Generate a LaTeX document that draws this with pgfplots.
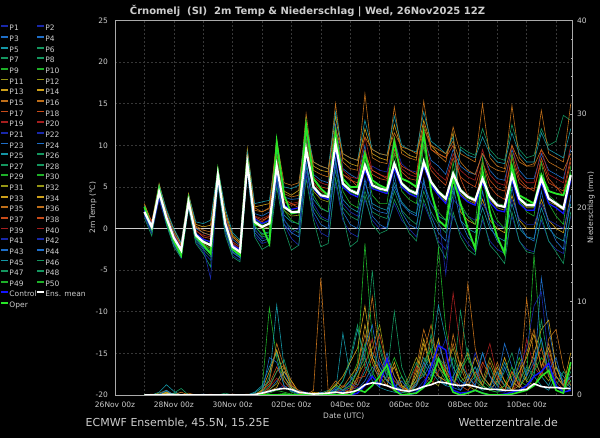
\documentclass[border=0pt]{standalone}
\usepackage{pgfplots}
\pgfplotsset{compat=1.18}
\usepackage{pgfplotstable}
\usepackage{fontspec}
\setmainfont{DejaVu Sans}
\definecolor{c1}{RGB}{25,40,170}
\definecolor{c2}{RGB}{30,110,200}
\definecolor{c3}{RGB}{20,150,165}
\definecolor{c4}{RGB}{20,150,95}
\definecolor{c5}{RGB}{30,175,40}
\definecolor{c6}{RGB}{150,150,20}
\definecolor{c7}{RGB}{205,160,25}
\definecolor{c8}{RGB}{190,110,25}
\definecolor{c9}{RGB}{200,75,25}
\definecolor{c10}{RGB}{165,30,30}
\definecolor{ctrl}{RGB}{20,20,255}
\definecolor{oper}{RGB}{40,230,40}
\definecolor{fg}{RGB}{205,205,205}
\definecolor{gridc}{RGB}{55,55,55}
\definecolor{framec}{RGB}{170,170,170}

\pgfplotstableread{
t M O C a b c d e f g h i j k l m n
1.00 2.0 2.6 2.2 2.4 1.8 2.9 1.5 2.2 3.0 1.7 2.5 2.0 1.3 2.7 1.9 2.3 1.6
1.25 0.2 0.0 0.4 0.5 -0.3 0.8 -0.6 0.2 0.6 -0.2 0.9 0.0 -0.9 0.4 0.1 0.7 -0.4
1.50 4.4 4.8 4.2 4.9 3.8 5.4 3.5 4.6 5.0 4.1 4.3 3.9 4.5 5.2 4.0 4.7 3.6
1.75 1.3 1.0 1.5 1.8 0.6 2.1 0.4 1.2 1.9 0.9 1.6 1.0 0.5 2.3 1.4 1.1 0.8
2.00 -1.1 -1.5 -0.9 -0.4 -1.8 -0.1 -2.0 -1.0 -0.6 -1.5 -0.8 -1.3 -2.2 0.0 -1.2 -0.7 -1.6
2.25 -2.6 -3.2 -2.4 -2.0 -3.4 -1.8 -3.6 -2.5 -2.1 -3.0 -2.3 -2.8 -3.5 -1.7 -2.7 -2.2 -3.1
2.50 3.2 3.5 3.0 3.6 2.7 4.2 2.5 3.3 3.8 2.9 3.4 3.0 2.4 4.0 3.1 3.5 2.8
2.75 -0.8 -1.0 -0.6 0.0 -1.4 0.5 -1.6 -0.7 0.3 -1.1 -0.2 -0.9 -1.8 0.8 -0.5 -0.3 -1.2
3.00 -1.6 -2.0 -1.3 -0.5 -2.5 0.2 -2.8 -1.4 -0.2 -2.1 -1.0 -1.8 -3.0 0.6 -1.5 -0.8 -2.3
3.25 -2.0 -3.0 -1.6 -0.8 -3.4 0.4 -3.8 -1.9 -0.4 -2.8 -1.2 -2.4 -4.6 1.0 -2.2 -1.0 -6.0
3.50 6.4 6.8 6.1 7.0 5.8 7.3 5.5 6.5 6.9 6.0 6.6 6.2 5.3 7.2 6.3 6.8 5.7
3.75 0.6 0.5 0.9 1.4 -0.2 2.0 -0.5 0.7 1.6 0.1 1.1 0.4 -0.8 2.4 0.8 1.0 0.0
4.00 -2.2 -2.5 -2.0 -1.3 -2.9 -0.8 -3.2 -2.1 -1.0 -2.6 -1.6 -2.4 -3.4 -0.5 -2.0 -1.8 -2.8
4.25 -2.8 -3.2 -2.5 -2.0 -3.5 -1.6 -3.8 -2.7 -1.8 -3.3 -2.2 -3.0 -4.0 -1.4 -2.6 -2.4 -3.4
4.50 7.8 8.3 7.5 8.4 7.0 9.6 6.8 7.9 8.8 7.3 8.1 7.6 6.9 9.2 7.7 8.3 7.1
4.75 0.8 0.5 1.2 1.8 -0.2 2.6 -0.8 0.9 2.2 0.2 1.4 0.6 -1.0 3.0 1.0 1.5 0.0
5.00 0.2 0.3 0.6 1.5 -1.0 2.8 -1.8 0.4 2.0 -0.6 1.0 0.0 -2.5 3.2 0.5 1.2 -1.2
5.25 0.6 -1.8 1.0 2.0 -0.8 3.0 -1.5 0.5 2.4 -0.4 1.4 0.2 -2.0 3.4 0.9 1.6 -1.0
5.50 7.5 10.4 7.0 8.5 6.0 9.0 5.5 7.8 10.8 6.4 8.0 7.2 5.0 9.5 7.4 8.8 6.2
5.75 2.6 4.0 2.8 3.8 1.0 4.5 0.5 2.8 4.2 1.6 3.2 2.2 0.0 5.0 2.5 3.5 1.2
6.00 2.0 1.8 2.3 3.5 0.0 4.0 -1.2 2.0 3.8 0.8 2.8 1.5 -2.6 4.8 1.8 3.0 -0.5
6.25 2.0 2.0 2.5 3.6 -0.5 4.6 -2.0 2.2 4.0 0.6 3.0 1.6 -2.0 5.2 1.9 3.2 0.0
6.50 9.5 12.5 9.0 11.0 7.5 12.0 6.5 9.8 13.8 8.0 10.5 9.2 6.0 12.5 9.0 11.5 7.0
6.75 5.0 6.0 4.8 6.5 2.5 7.5 1.5 5.2 7.0 3.5 6.0 4.5 1.0 8.0 4.8 6.2 3.0
7.00 4.0 4.8 3.8 5.8 1.2 7.0 -0.5 4.2 6.5 2.4 5.0 3.5 -2.2 7.5 3.8 5.5 1.5
7.25 3.8 4.0 3.5 5.5 0.8 6.8 -1.0 4.0 6.2 2.0 4.8 3.2 -1.8 7.2 3.5 5.2 1.0
7.50 10.2 11.5 9.5 12.5 7.0 13.5 5.5 10.5 15.0 8.0 11.5 9.8 6.0 14.0 9.5 12.0 7.5
7.75 5.4 6.0 5.0 7.2 2.5 8.5 1.0 5.6 8.0 3.5 6.5 5.0 1.5 9.0 5.2 7.0 3.0
8.00 4.6 5.0 4.2 6.5 1.5 7.8 -0.5 4.8 7.2 2.5 5.8 4.2 -2.2 8.5 4.4 6.2 2.0
8.25 4.2 5.0 3.8 6.0 1.0 7.5 -1.0 4.4 7.0 2.0 5.5 3.8 -1.5 8.2 4.0 6.0 1.5
8.50 7.6 9.0 7.0 10.0 4.5 12.0 3.5 8.0 16.2 5.5 9.5 7.2 4.0 13.0 7.5 11.0 5.0
8.75 5.2 5.8 4.8 2.5 2.0 9.0 1.0 5.5 8.5 3.0 6.5 4.8 0.5 9.5 5.0 7.0 7.5
9.00 4.8 5.2 4.5 2.0 1.5 8.5 0.0 5.0 8.0 2.5 6.0 4.5 -0.6 9.0 4.6 6.5 7.0
9.25 4.6 4.8 4.2 1.8 1.2 8.2 0.2 4.8 7.8 2.2 5.8 4.2 -0.2 8.8 4.4 6.2 6.8
9.50 7.8 10.5 7.2 5.0 4.5 12.5 3.0 8.0 14.6 5.5 9.5 7.5 3.5 13.5 7.6 11.0 10.5
9.75 5.4 6.0 5.0 3.0 2.2 9.5 1.0 5.6 9.0 3.2 6.8 5.0 1.5 10.0 5.2 7.2 7.8
10.00 4.6 5.6 4.2 2.0 1.2 8.8 0.0 4.8 8.5 2.2 6.0 4.2 -0.5 9.5 4.4 6.5 7.0
10.25 4.2 5.0 3.8 1.5 0.5 8.5 -1.0 4.4 8.2 1.8 5.8 3.8 -1.5 9.2 4.0 6.2 6.8
10.50 8.0 11.5 7.5 11.0 4.5 13.0 3.0 8.5 15.3 5.5 10.0 7.5 3.5 14.0 7.8 11.5 5.0
10.75 5.6 4.5 5.2 8.2 2.0 10.0 0.8 5.8 9.5 3.0 7.0 5.2 1.0 10.5 5.5 7.5 3.0
11.00 4.4 1.0 4.0 7.5 0.5 9.0 -1.5 4.6 8.8 1.5 6.0 4.0 -2.0 9.8 4.2 6.5 1.8
11.25 3.6 0.2 3.0 6.5 -0.5 8.5 -2.5 3.8 8.0 1.0 5.2 3.2 -3.6 9.0 3.4 5.8 -5.5
11.50 6.6 6.0 6.0 9.5 3.0 11.5 1.5 7.0 12.2 4.0 8.5 6.2 2.0 11.0 6.5 9.0 3.5
11.75 4.6 3.0 4.0 7.5 9.8 2.0 -0.5 4.8 9.0 9.5 6.2 4.2 -1.0 1.0 4.4 7.0 2.5
12.00 3.8 0.0 3.2 6.8 9.2 1.0 -1.8 4.0 8.5 8.8 5.5 3.4 -2.5 0.0 3.6 6.2 1.5
12.25 3.4 -2.4 2.8 6.5 8.8 0.5 -2.8 3.6 8.0 8.5 5.0 3.0 -3.2 -0.5 3.2 5.8 1.0
12.50 6.0 7.0 5.5 9.0 12.0 3.5 1.0 6.5 15.0 11.0 8.0 5.8 1.5 2.5 6.0 9.5 3.0
12.75 3.8 2.0 3.2 7.0 9.5 1.0 -1.5 4.0 8.5 9.0 5.8 3.5 -2.0 0.0 3.8 6.5 1.5
13.00 2.8 -1.0 2.2 6.0 8.5 0.0 -2.5 3.0 7.5 8.0 4.8 2.5 -3.0 -1.0 2.8 5.5 0.5
13.25 2.6 -3.0 2.0 5.8 8.2 -0.5 -3.0 2.8 7.2 7.8 4.5 2.2 -4.2 -1.5 2.5 5.2 0.0
13.50 6.4 7.5 5.8 9.5 12.5 4.0 1.5 6.8 14.8 11.5 8.5 6.0 2.0 3.0 6.2 10.0 3.5
13.75 3.6 4.0 3.0 7.0 9.5 1.0 -1.5 3.8 8.5 9.0 5.5 3.2 -1.5 0.0 3.5 6.5 1.2
14.00 2.8 3.5 2.2 6.0 8.5 0.0 -2.5 3.0 7.5 8.0 4.8 2.5 -2.8 -1.0 2.8 5.5 0.5
14.25 2.8 3.0 2.2 6.0 8.8 0.0 -2.8 3.0 7.8 8.0 4.8 2.5 -3.0 -1.2 2.6 5.5 0.5
14.50 6.0 6.5 5.5 9.0 12.0 3.5 1.0 6.5 14.2 11.5 8.0 5.8 1.5 2.5 6.0 9.5 3.0
14.75 3.6 4.5 3.0 7.0 10.0 1.0 -1.5 4.0 9.0 9.5 5.5 3.2 -1.5 0.0 3.5 6.5 1.0
15.00 3.0 4.2 2.5 6.5 10.5 0.0 -2.5 3.2 8.5 9.0 5.0 2.8 -2.8 -1.0 3.0 6.0 0.5
15.25 2.4 4.0 1.8 6.0 13.6 -0.5 -3.0 2.6 8.0 8.5 4.5 2.2 -4.2 -1.5 2.4 5.5 0.0
15.50 6.4 6.5 5.8 9.5 13.0 4.0 1.5 6.8 15.0 12.0 8.5 6.2 2.0 3.0 6.0 10.0 3.5
}\temps

\pgfplotstableread{
t o p q r
1.00 2.3 1.8 2.1 2.5
1.25 0.5 -0.2 0.3 0.1
1.50 4.6 4.0 4.5 4.7
1.75 1.6 0.9 1.4 1.1
2.00 -0.5 -1.8 -0.9 -1.2
2.25 -2.0 -3.3 -2.4 -2.9
2.50 3.8 2.8 3.3 3.4
2.75 0.2 -1.2 -0.6 -0.9
3.00 -0.5 -2.3 -1.3 -1.9
3.25 -0.8 -3.0 -1.6 -2.6
3.50 6.8 5.9 6.6 6.7
3.75 1.5 -0.2 0.9 0.3
4.00 -1.0 -2.8 -1.9 -2.4
4.25 -1.8 -3.5 -2.5 -3.1
4.50 8.6 7.2 8.0 8.1
4.75 2.5 -0.5 1.2 0.4
5.00 2.0 -1.5 0.8 -0.8
5.25 2.5 -1.2 1.5 -0.5
5.50 10.5 6.5 8.0 8.8
5.75 5.5 0.5 3.5 2.2
6.00 5.2 -0.5 3.0 1.0
6.25 5.5 -1.0 2.5 0.5
6.50 11.5 8.0 10.5 10.8
6.75 8.0 2.0 5.5 4.0
7.00 7.5 0.5 4.5 2.5
7.25 7.2 0.0 4.0 2.0
7.50 12.0 8.5 11.0 11.0
7.75 9.0 2.0 6.5 4.5
8.00 8.5 0.5 6.0 3.0
8.25 8.2 0.0 5.0 2.5
8.50 11.0 6.0 9.0 8.5
8.75 9.5 1.5 7.0 4.0
9.00 9.0 0.5 6.5 3.0
9.25 8.8 0.0 6.0 3.0
9.50 11.5 6.5 9.0 9.0
9.75 9.8 2.0 7.5 4.5
10.00 9.5 0.5 7.0 3.5
10.25 9.0 0.0 6.5 3.0
10.50 12.0 6.0 12.5 10.0
10.75 10.0 1.5 9.5 4.0
11.00 9.5 -0.5 9.0 2.0
11.25 9.0 -1.5 8.5 1.0
11.50 10.5 5.0 10.0 8.0
11.75 8.0 1.0 6.0 3.0
12.00 7.0 -1.0 4.0 1.5
12.25 6.5 -2.0 3.0 0.5
12.50 9.0 4.5 8.0 8.5
12.75 7.5 0.5 5.0 3.0
13.00 7.0 -1.5 4.0 1.0
13.25 6.8 -2.5 3.5 0.0
13.50 10.0 5.0 9.0 9.0
13.75 8.0 0.5 6.0 3.5
14.00 7.5 -1.0 5.0 2.0
14.25 7.5 -1.5 4.5 1.5
14.50 9.5 4.5 8.5 8.0
14.75 8.0 0.5 6.0 3.0
15.00 7.5 -1.5 5.0 1.5
15.25 7.0 -2.5 4.0 0.5
15.50 9.0 4.0 8.0 7.5
}\tempsb

\pgfplotstableread{
t PM PC PO q1 q2 q3 q4 q5 q6 q7 q8 q9 q10 q11 q12
1.00 0 0 0 0 0 0 0 0 0 0 0 0 0 0 0
1.25 0 0 0 0 0 0.1 0 0 0 0 0 0 0 0 0
1.50 0 0 0 0 0.3 0 0 0 0.2 0 0 0 0 0 0
1.75 0.05 0 0 0.2 1.1 0.3 0 0.1 0.5 0 0.2 0 0 0 0.4
2.00 0.05 0 0 0 0.4 0 0.2 0 0 0.1 0 0 0 0 0
2.25 0 0 0 0 0 0 0.7 0 0 0 0 0 0 0 0
2.50 0 0 0 0 0 0.2 0 0 0 0 0.1 0 0 0 0
2.75 0 0 0 0 0 0 0 0 0 0 0 0 0 0 0
3.00 0 0 0 0 0 0 0 0.1 0 0 0 0 0 0 0
3.25 0 0 0 0 0 0 0 0 0 0 0 0 0.1 0 0
3.50 0 0 0 0 0 0 0 0 0 0 0 0 0 0 0
3.75 0 0 0 0 0 0 0.2 0 0 0 0 0 0 0 0
4.00 0 0 0 0 0 0 0 0 0 0.1 0 0 0 0 0
4.25 0 0 0 0 0 0 0 0 0 0 0 0 0 0 0
4.50 0 0 0 0 0 0.1 0 0 0 0 0 0 0 0 0
4.75 0.05 0 0 0 0.2 0 0 0 0 0.1 0 0 0 0 0.3
5.00 0.2 0 0 0.6 0.8 0.2 0 0.3 0 0.4 0 0.2 0.1 0 1.0
5.25 0.4 0 0 9.3 1.5 0.8 2.0 0.5 0.6 1.2 0.4 0.3 0.8 0.2 3.0
5.50 0.6 0 0 4.0 9.6 2.5 4.8 1.5 1.2 3.0 0.8 0.6 1.8 0.5 4.5
5.75 0.7 0 0.1 1.0 3.0 3.2 1.5 2.5 3.0 1.5 2.5 1.0 0.8 0.3 2.0
6.00 0.6 0 0 0.3 0.8 1.5 0.5 1.0 0.8 0.6 1.5 0.4 1.2 0.1 0.6
6.25 0.3 0 0 0 0.2 0.3 0.2 0.4 0.1 0.2 0.3 0.5 0.3 0 0.1
6.50 0.2 0 0 0 0 0 0.1 0.2 0 0 0 0.3 0.2 0 0
6.75 0.1 0 0 0 0 0.5 0 0 0 0 0.2 0 0 0.1 0
7.00 0.15 0 0 0 0 12.5 0 0 0 0.1 0.3 0 0.1 0 0
7.25 0.2 0 0 0.1 0 0.4 0 0.3 0.2 0 0 0.2 0 0.4 0
7.50 0.3 0 0 0.5 0.3 0 0.2 0.6 1.2 0.4 0 0.5 0.3 1.0 0.4
7.75 0.2 0 0 0.8 6.6 0 0.5 0.3 0.5 1.0 0.2 0.3 0.6 0.5 1.5
8.00 0.3 0 0 1.5 2.0 0.3 1.0 0.8 0.3 0.6 0.5 1.2 0.4 1.0 3.5
8.25 0.5 0.2 0.6 3.5 1.0 1.5 2.5 0.6 2.0 1.8 3.0 0.8 1.0 2.5 7.0
8.50 1.1 1.0 0.3 16.2 2.5 5.0 4.0 1.5 3.5 2.0 7.5 1.0 3.0 5.5 4.0
8.75 1.3 2.0 1.0 6.0 4.5 10.5 13.3 3.0 5.0 4.0 4.0 2.5 6.0 2.5 1.5
9.00 1.2 1.0 2.0 2.0 3.0 4.0 5.0 2.0 7.5 6.5 2.0 3.5 2.0 1.0 0.8
9.25 1.0 3.9 3.2 1.0 1.5 2.0 2.0 4.5 3.0 3.0 1.0 2.0 1.0 2.0 0.5
9.50 0.7 1.0 0.5 0.5 0.8 1.0 8.9 2.0 1.0 1.5 3.5 1.0 0.5 4.0 0.3
9.75 0.5 0 0 0.3 2.0 0.5 3.0 0.5 0.5 0.8 1.0 0.6 0.3 2.0 0.2
10.00 0.4 0 0.1 0.2 0.5 0.3 1.0 0.3 2.0 0.5 0.4 0.3 1.5 0.8 0.6
10.25 0.6 0.3 0.2 1.0 1.2 3.0 0.5 1.5 4.0 1.0 2.5 0.5 3.0 1.5 2.0
10.50 0.9 1.0 0.8 2.5 3.0 7.0 1.0 2.0 2.5 3.0 6.0 1.5 2.0 3.5 4.0
10.75 1.1 3.0 1.5 5.0 4.0 4.5 2.0 3.5 1.5 6.0 3.0 2.5 1.0 5.0 2.5
11.00 1.4 5.3 3.9 15.8 9.6 2.0 4.0 2.0 1.0 4.0 2.0 4.0 2.5 3.0 1.5
11.25 1.3 4.8 2.0 7.0 6.0 1.5 3.0 1.0 3.0 2.5 1.5 6.0 3.5 2.0 1.0
11.50 1.1 0.5 0.3 3.0 3.0 6.5 1.5 0.8 5.0 1.5 1.0 2.5 10.9 1.0 2.0
11.75 1.0 0.2 0 1.5 1.5 3.0 9.0 0.5 2.0 1.0 3.0 1.0 5.0 2.5 3.5
12.00 1.1 0.3 0.2 2.0 1.0 11.9 4.0 1.5 1.0 0.5 4.5 1.5 2.0 4.0 2.0
12.25 0.9 0.5 0.5 3.0 2.0 5.0 2.0 3.0 0.5 1.5 2.0 4.5 1.0 2.0 1.0
12.50 0.7 0.2 0.2 1.5 4.5 2.0 1.0 1.0 1.5 3.5 1.0 2.0 3.0 1.0 0.5
12.75 0.6 0 0 0.8 2.0 1.0 0.5 0.5 4.0 2.0 0.5 1.0 5.5 0.5 0.8
13.00 0.6 0 0 0.5 1.0 3.5 0.3 1.5 2.0 1.0 1.5 0.5 2.0 0.3 2.5
13.25 0.5 0.1 0 1.0 3.5 1.5 0.5 5.5 1.0 0.5 4.0 0.3 1.0 1.0 1.0
13.50 0.5 0.3 0.1 2.0 1.5 0.5 1.0 3.0 0.5 2.5 1.5 1.0 0.5 3.0 0.5
13.75 0.5 0.5 0.3 4.0 0.8 1.0 2.5 1.0 3.5 1.0 0.8 3.0 1.5 1.5 0.3
14.00 0.6 1.0 0.5 2.0 2.5 10.3 1.5 0.5 1.5 0.5 2.0 5.0 6.0 1.0 1.0
14.25 1.2 2.0 1.0 15.0 4.0 4.0 3.0 2.0 1.0 3.0 4.5 9.5 3.0 2.5 2.0
14.50 0.9 2.5 2.0 5.0 2.0 2.0 6.0 12.5 2.5 5.0 7.0 11.0 2.0 4.0 1.0
14.75 0.8 3.4 2.6 2.0 1.0 6.0 2.0 7.0 1.5 2.0 8.0 4.0 4.5 3.0 0.5
15.00 0.8 1.0 0.5 1.0 3.0 7.0 1.0 3.0 3.0 1.0 3.0 2.0 1.5 1.0 2.0
15.25 0.7 0.3 0.2 0.5 2.0 3.0 0.5 1.5 1.0 0.5 1.0 1.0 0.5 0.5 1.0
15.50 0.7 0.5 3.5 3.0 1.0 1.0 2.5 0.8 3.0 1.5 0.5 0.5 2.0 1.5 0.5
}\precs

\pgfplotstableread{
t s1 s2 s3 s4
1.00 0 0 0 0
1.25 0 0 0 0
1.50 0 0 0.1 0
1.75 0.3 0 0.5 0
2.00 0 0.2 0 0
2.25 0 0 0 0.3
2.50 0 0 0 0
2.75 0 0 0 0
3.00 0 0 0 0
3.25 0 0 0 0
3.50 0 0 0 0
3.75 0 0 0 0
4.00 0 0 0 0
4.25 0 0 0 0
4.50 0 0 0 0
4.75 0 0.1 0 0
5.00 0.5 0.3 0.2 0.4
5.25 2.5 1.0 4.0 1.5
5.50 4.8 2.5 3.5 5.5
5.75 2.0 3.8 1.0 3.0
6.00 0.8 1.0 0.4 1.0
6.25 0.2 0.3 0.1 0.5
6.50 0 0.1 0 0.2
6.75 0.3 0 0 0
7.00 0 0.2 0.3 0
7.25 0.2 0.5 0 0.4
7.50 1.0 0.3 0.8 1.5
7.75 2.0 1.5 0.5 0.8
8.00 3.5 4.0 1.5 2.0
8.25 5.0 7.5 2.5 3.0
8.50 9.5 3.0 5.0 6.5
8.75 4.0 2.0 7.5 3.5
9.00 2.5 5.5 3.0 1.5
9.25 1.5 2.5 1.5 4.0
9.50 3.0 1.0 0.8 2.0
9.75 1.0 0.5 1.5 0.8
10.00 0.5 1.5 0.5 0.3
10.25 2.0 3.5 1.0 1.5
10.50 5.5 2.0 3.5 4.5
10.75 3.0 6.5 2.0 7.5
11.00 6.0 3.0 5.5 3.0
11.25 2.5 1.5 3.0 2.0
11.50 1.0 4.0 1.5 5.5
11.75 3.5 2.0 0.5 3.0
12.00 1.5 5.0 2.0 1.0
12.25 4.0 1.5 1.0 2.5
12.50 2.0 0.8 4.5 1.0
12.75 1.0 3.0 2.0 3.5
13.00 3.0 1.0 0.5 1.5
13.25 1.5 2.5 3.0 0.5
13.50 0.5 4.5 1.0 2.5
13.75 2.5 1.5 5.0 1.0
14.00 4.0 3.0 2.0 4.5
14.25 6.5 2.0 3.5 7.0
14.50 3.0 8.0 6.0 3.0
14.75 5.0 3.5 2.5 5.5
15.00 2.0 1.0 4.0 2.0
15.25 1.0 2.5 1.0 1.0
15.50 4.5 1.5 2.0 3.0
}\precsb

\pgfplotsset{
  common/.style={
    scale only axis, width=457.5pt, height=374.5pt,
    at={(115pt,43pt)}, anchor=south west,
    xmin=0, xmax=15.56,
    /pgf/number format/assume math mode=true,
    tick label style={font=\fontsize{7.5}{9}\selectfont, text=fg},
    label style={font=\fontsize{7.5}{9}\selectfont, text=fg},
    axis line style={draw=framec},
    no markers,
  },
  mem/.style={line width=0.6pt, forget plot},
}

\begin{document}
\begin{tikzpicture}[x=1pt,y=1pt]
\fill[black] (0,0) rectangle (600,438);
\node[font=\fontsize{10}{12}\selectfont\bfseries, text=fg] at (307.5,427) {Črnomelj\ \ (SI)\ \ 2m Temp \& Niederschlag | Wed, 26Nov2025 12Z};
\node[font=\fontsize{11}{13}\selectfont, text=fg, anchor=base west, inner sep=0pt] at (85.5,11) {ECMWF Ensemble, 45.5N, 15.25E};
\node[font=\fontsize{11}{13}\selectfont, text=fg, anchor=base west, inner sep=0pt] at (458.5,11) {Wetterzentrale.de};

\begin{axis}[common,
  ymin=-20, ymax=25,
  ytick={-20,-15,...,25},
  xtick={0,2,...,14},
  xticklabels={26Nov 00z,28Nov 00z,30Nov 00z,02Dec 00z,04Dec 00z,06Dec 00z,08Dec 00z,10Dec 00z},
  minor xtick={1,3,...,15},
  xmajorgrids, xminorgrids, ymajorgrids,
  grid style={draw=gridc, line width=0.6pt, dash pattern=on 2pt off 2pt},
  minor grid style={draw=gridc, line width=0.6pt, dash pattern=on 2pt off 2pt},
  major tick length=0pt, minor tick length=0pt,
  xticklabel style={anchor=base, yshift=-12.5pt},
  yticklabel style={anchor=east, inner sep=0pt, xshift=-7pt},
  xlabel={Date (UTC)}, ylabel={2m Temp (°C)},
  xlabel style={at={(axis description cs:0.5,-0.056)}, anchor=center},
  ylabel style={at={(axis description cs:-0.048,0.5)}, anchor=center},
  legend columns=2,
  legend cell align=left,
  legend image code/.code={\draw[#1,line width=1.8pt] (0pt,2.6pt) -- (7pt,2.6pt);},
  legend style={at={(-0.2514,0.9888)}, anchor=north west, draw=none, fill=none,
    inner sep=0pt, font=\fontsize{7.5}{8}\selectfont, text=fg,
    nodes={inner sep=0.5pt, text height=5.6pt, text depth=1.6pt},
    row sep=2.44pt,
    /tikz/every even column/.append style={column sep=-1pt}},
]
\addlegendimage{c1}\addlegendentry{P1}
\addlegendimage{c1}\addlegendentry{P2}
\addlegendimage{c2}\addlegendentry{P3}
\addlegendimage{c2}\addlegendentry{P4}
\addlegendimage{c3}\addlegendentry{P5}
\addlegendimage{c4}\addlegendentry{P6}
\addlegendimage{c4}\addlegendentry{P7}
\addlegendimage{c4}\addlegendentry{P8}
\addlegendimage{c5}\addlegendentry{P9}
\addlegendimage{c5}\addlegendentry{P10}
\addlegendimage{c6}\addlegendentry{P11}
\addlegendimage{c6}\addlegendentry{P12}
\addlegendimage{c7}\addlegendentry{P13}
\addlegendimage{c7}\addlegendentry{P14}
\addlegendimage{c8}\addlegendentry{P15}
\addlegendimage{c8}\addlegendentry{P16}
\addlegendimage{c9}\addlegendentry{P17}
\addlegendimage{c9}\addlegendentry{P18}
\addlegendimage{c10}\addlegendentry{P19}
\addlegendimage{c10}\addlegendentry{P20}
\addlegendimage{c1}\addlegendentry{P21}
\addlegendimage{c1}\addlegendentry{P22}
\addlegendimage{c2}\addlegendentry{P23}
\addlegendimage{c2}\addlegendentry{P24}
\addlegendimage{c3}\addlegendentry{P25}
\addlegendimage{c4}\addlegendentry{P26}
\addlegendimage{c4}\addlegendentry{P27}
\addlegendimage{c4}\addlegendentry{P28}
\addlegendimage{c5}\addlegendentry{P29}
\addlegendimage{c5}\addlegendentry{P30}
\addlegendimage{c6}\addlegendentry{P31}
\addlegendimage{c6}\addlegendentry{P32}
\addlegendimage{c7}\addlegendentry{P33}
\addlegendimage{c7}\addlegendentry{P34}
\addlegendimage{c8}\addlegendentry{P35}
\addlegendimage{c8}\addlegendentry{P36}
\addlegendimage{c9}\addlegendentry{P37}
\addlegendimage{c9}\addlegendentry{P38}
\addlegendimage{c10}\addlegendentry{P39}
\addlegendimage{c10}\addlegendentry{P40}
\addlegendimage{c1}\addlegendentry{P41}
\addlegendimage{c1}\addlegendentry{P42}
\addlegendimage{c2}\addlegendentry{P43}
\addlegendimage{c2}\addlegendentry{P44}
\addlegendimage{c3}\addlegendentry{P45}
\addlegendimage{c4}\addlegendentry{P46}
\addlegendimage{c4}\addlegendentry{P47}
\addlegendimage{c4}\addlegendentry{P48}
\addlegendimage{c5}\addlegendentry{P49}
\addlegendimage{c5}\addlegendentry{P50}
\addlegendimage{ctrl}\addlegendentry{Control}
\addlegendimage{white}\addlegendentry{Ens. mean}
\addlegendimage{oper}\addlegendentry{Oper}

\addplot[fg, line width=0.8pt, forget plot] coordinates {(0,0) (15.56,0)};
\addplot[mem, c2]  table[x=t,y=a] {\temps};
\addplot[mem, c4]  table[x=t,y=b] {\temps};
\addplot[mem, c7]  table[x=t,y=c] {\temps};
\addplot[mem, c1]  table[x=t,y=d] {\temps};
\addplot[mem, c5]  table[x=t,y=e] {\temps};
\addplot[mem, c8]  table[x=t,y=f] {\temps};
\addplot[mem, c3]  table[x=t,y=g] {\temps};
\addplot[mem, c9]  table[x=t,y=h] {\temps};
\addplot[mem, c6]  table[x=t,y=i] {\temps};
\addplot[mem, c4]  table[x=t,y=j] {\temps};
\addplot[mem, c3]  table[x=t,y=k] {\temps};
\addplot[mem, c5]  table[x=t,y=l] {\temps};
\addplot[mem, c10] table[x=t,y=m] {\temps};
\addplot[mem, c1]  table[x=t,y=n] {\temps};
\addplot[mem, c8]  table[x=t,y=o] {\tempsb};
\addplot[mem, c2]  table[x=t,y=p] {\tempsb};
\addplot[mem, c9]  table[x=t,y=q] {\tempsb};
\addplot[mem, c5]  table[x=t,y=r] {\tempsb};
\addplot[ctrl, line width=1.2pt, forget plot] table[x=t,y=C] {\temps};
\addplot[oper, line width=1.8pt, forget plot] table[x=t,y=O] {\temps};
\addplot[white, line width=2.2pt, forget plot] table[x=t,y=M] {\temps};
\end{axis}

\begin{axis}[common,
  ymin=0, ymax=40,
  axis x line=none, axis y line*=right,
  ytick={0,10,...,40}, minor ytick={2,4,...,38},
  tick align=inside, major tick length=3pt, minor tick length=2pt,
  tick style={draw=framec, line width=0.6pt},
  yticklabel style={anchor=west, inner sep=0pt, xshift=4.5pt},
  ylabel={Niederschlag (mm)},
  ylabel style={at={(axis description cs:1.0404,0.5)}, anchor=center},
]
\addplot[mem, c5]  table[x=t,y=q1] {\precs};
\addplot[mem, c3]  table[x=t,y=q2] {\precs};
\addplot[mem, c8]  table[x=t,y=q3] {\precs};
\addplot[mem, c4]  table[x=t,y=q4] {\precs};
\addplot[mem, c2]  table[x=t,y=q5] {\precs};
\addplot[mem, c6]  table[x=t,y=q6] {\precs};
\addplot[mem, c9]  table[x=t,y=q7] {\precs};
\addplot[mem, c7]  table[x=t,y=q8] {\precs};
\addplot[mem, c1]  table[x=t,y=q9] {\precs};
\addplot[mem, c10] table[x=t,y=q10] {\precs};
\addplot[mem, c5]  table[x=t,y=q11] {\precs};
\addplot[mem, c3]  table[x=t,y=q12] {\precs};
\addplot[mem, c7]  table[x=t,y=s1] {\precsb};
\addplot[mem, c4]  table[x=t,y=s2] {\precsb};
\addplot[mem, c2]  table[x=t,y=s3] {\precsb};
\addplot[mem, c8]  table[x=t,y=s4] {\precsb};
\addplot[ctrl, line width=1.4pt, forget plot] table[x=t,y=PC] {\precs};
\addplot[oper, line width=1.6pt, forget plot] table[x=t,y=PO] {\precs};
\addplot[white, line width=1.6pt, forget plot] table[x=t,y=PM] {\precs};
\end{axis}
\end{tikzpicture}
\end{document}
